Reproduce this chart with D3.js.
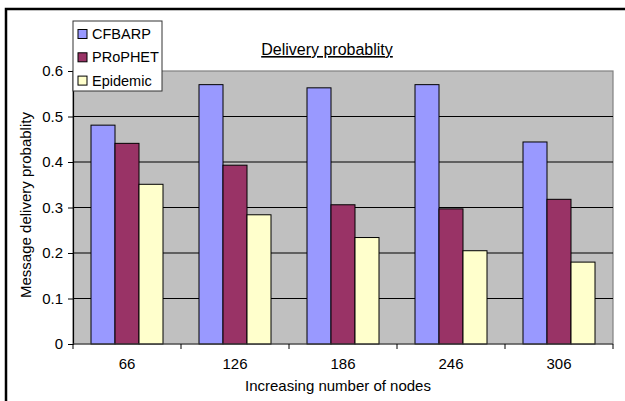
<!DOCTYPE html>
<html>
<head>
<meta charset="utf-8">
<script src="https://cdn.jsdelivr.net/npm/d3@7"></script>
<style>
  body { margin: 0; background: #fff; }
  text { font-family: "Liberation Sans", Arial, sans-serif; fill: #000; }
</style>
</head>
<body>
<script>
// chart values
var nodes = ["66", "126", "186", "246", "306"];
var seriesNames = ["CFBARP", "PRoPHET", "Epidemic"];
var cfbarp = [0.481, 0.570, 0.563, 0.570, 0.444];
var prophet = [0.441, 0.393, 0.306, 0.297, 0.318];
var epidemic = [0.351, 0.284, 0.234, 0.205, 0.180];
var yTicks = [0, 0.1, 0.2, 0.3, 0.4, 0.5, 0.6];
var colors = ["#9999FF", "#993366", "#FFFFCC"];

var width = 625;
var height = 401;
var plot = {left: 73, right: 613, top: 71, bottom: 344};

var svg = d3.select("body")
            .append("svg")
            .attr("width", width)
            .attr("height", height);

// outer chart frame (only top and left edges show)
svg.append("rect")
    .attr("x", 6)
    .attr("y", 9)
    .attr("width", 700)
    .attr("height", 500)
    .attr("fill", "none")
    .attr("stroke", "#000")
    .attr("stroke-width", 2.5);

var x0 = d3.scaleBand()
    .domain(nodes)
    .range([plot.left, plot.right]);

var barW = x0.bandwidth() / 4.5;
var x1 = d3.scaleBand()
    .domain(seriesNames)
    .range([barW * 0.75, barW * 3.75]);

var y = d3.scaleLinear()
    .domain([0, 0.6])
    .range([plot.bottom, plot.top]);

// plot background
svg.append("rect")
    .attr("x", plot.left)
    .attr("y", plot.top)
    .attr("width", plot.right - plot.left)
    .attr("height", plot.bottom - plot.top)
    .attr("fill", "#C0C0C0")
    .attr("stroke", "#808080")
    .attr("stroke-width", 1.2);

// gridlines
svg.selectAll("line.grid")
    .data(yTicks.filter(function(d) { return d > 0 && d < 0.6; }))
    .enter()
    .append("line")
    .attr("class", "grid")
    .attr("x1", plot.left)
    .attr("x2", plot.right)
    .attr("y1", function(d) { return y(d); })
    .attr("y2", function(d) { return y(d); })
    .attr("stroke", "#000")
    .attr("stroke-width", 1);

// bars
var table = nodes.map(function(n, i) {
  return {node: n, values: [cfbarp[i], prophet[i], epidemic[i]]};
});

var groups = svg.selectAll("g.group")
    .data(table)
    .enter()
    .append("g")
    .attr("class", "group")
    .attr("transform", function(d) { return "translate(" + x0(d.node) + ",0)"; });

groups.selectAll("rect")
    .data(function(d) {
      return d.values.map(function(v, j) { return {name: seriesNames[j], value: v, c: colors[j]}; });
    })
    .enter()
    .append("rect")
    .attr("x", function(d) { return x1(d.name); })
    .attr("y", function(d) { return y(d.value); })
    .attr("width", x1.bandwidth())
    .attr("height", function(d) { return plot.bottom - y(d.value); })
    .attr("fill", function(d) { return d.c; })
    .attr("stroke", "#000")
    .attr("stroke-width", 1);

// y axis
var yAxis = svg.append("g")
    .attr("transform", "translate(" + plot.left + ",0)")
    .call(d3.axisLeft(y).tickValues(yTicks).tickSize(5).tickPadding(5)
          .tickFormat(function(d) { return d === 0 ? "0" : d3.format(".1f")(d); }));
yAxis.select(".domain").attr("stroke", "#000").attr("stroke-width", 1.2);
yAxis.selectAll("line").attr("stroke", "#000");
yAxis.selectAll("text")
    .style("font-family", "'Liberation Sans', Arial, sans-serif")
    .style("font-size", "15px")
    .attr("fill", "#000");

// x axis, ticks sit on band edges
var xAxis = svg.append("g")
    .attr("transform", "translate(0," + plot.bottom + ")");
xAxis.append("line")
    .attr("x1", plot.left)
    .attr("x2", plot.right)
    .attr("stroke", "#404040")
    .attr("stroke-width", 1.2);
xAxis.selectAll("line.tick")
    .data(nodes.concat(["end"]))
    .enter()
    .append("line")
    .attr("class", "tick")
    .attr("x1", function(d) { return d === "end" ? plot.right : x0(d); })
    .attr("x2", function(d) { return d === "end" ? plot.right : x0(d); })
    .attr("y1", 0)
    .attr("y2", 5)
    .attr("stroke", "#000");
xAxis.selectAll("text")
    .data(nodes)
    .enter()
    .append("text")
    .text(function(d) { return d; })
    .attr("x", function(d) { return x0(d) + x0.bandwidth() / 2; })
    .attr("y", 25)
    .attr("text-anchor", "middle")
    .style("font-size", "15px");

// titles
svg.append("text")
    .text("Delivery probablity")
    .attr("x", 327)
    .attr("y", 55)
    .attr("text-anchor", "middle")
    .style("font-size", "16px")
    .style("text-decoration", "underline");

svg.append("text")
    .text("Increasing number of nodes")
    .attr("x", 338)
    .attr("y", 391)
    .attr("text-anchor", "middle")
    .style("font-size", "15px");

svg.append("text")
    .text("Message delivery probablity")
    .attr("transform", "translate(31,205) rotate(-90)")
    .attr("text-anchor", "middle")
    .style("font-size", "15px");

// legend
var legend = svg.append("g");
legend.append("rect")
    .attr("x", 73)
    .attr("y", 21)
    .attr("width", 89)
    .attr("height", 70)
    .attr("fill", "#fff")
    .attr("stroke", "#333")
    .attr("stroke-width", 1);

var items = legend.selectAll("g.item")
    .data(seriesNames)
    .enter()
    .append("g")
    .attr("class", "item")
    .attr("transform", function(d, i) { return "translate(78," + (29.5 + i * 23.3) + ")"; });
items.append("rect")
    .attr("width", 9)
    .attr("height", 9)
    .attr("fill", function(d, i) { return colors[i]; })
    .attr("stroke", "#000")
    .attr("stroke-width", 1);
items.append("text")
    .text(function(d) { return d; })
    .attr("x", 14)
    .attr("y", 9.5)
    .style("font-size", "14.5px");
</script>
</body>
</html>
